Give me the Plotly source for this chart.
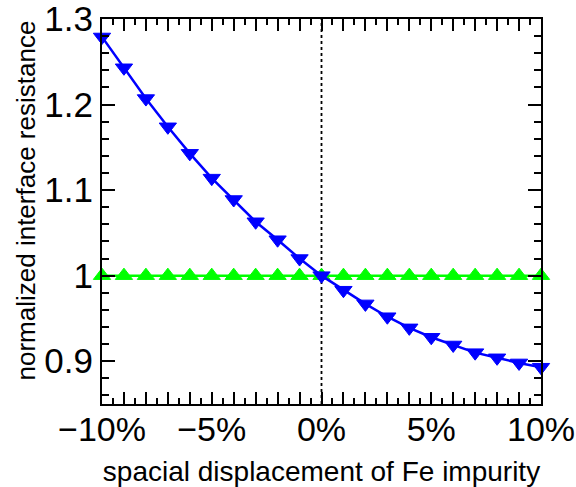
import plotly.graph_objects as go

displacement = list(range(-10, 11))
blue_resistance = [1.279, 1.243, 1.207, 1.174, 1.143, 1.114, 1.089, 1.063, 1.042, 1.020, 1.000,
                   0.983, 0.967, 0.952, 0.939, 0.928, 0.919, 0.910, 0.904, 0.898, 0.893]
green_resistance = [1.0] * 21

x_tickvals = list(range(-10, 11))
x_ticktext = ["−10%" if v == -10 else "−5%" if v == -5 else "0%" if v == 0 else
              "5%" if v == 5 else "10%" if v == 10 else "" for v in x_tickvals]
y_tickvals = [0.9, 1.0, 1.1, 1.2, 1.3]
y_ticktext = ["0.9", "1", "1.1", "1.2", "1.3"]

FONT = "Liberation Sans, Arial, sans-serif"

fig = go.Figure()
fig.add_trace(go.Scatter(
    x=displacement, y=green_resistance, mode="lines+markers",
    line=dict(color="#00ff00", width=2.5),
    marker=dict(symbol="triangle-up", size=15, color="#00ff00",
                line=dict(color="#00ff00", width=1)),
    showlegend=False, cliponaxis=False))
fig.add_trace(go.Scatter(
    x=displacement, y=blue_resistance, mode="lines+markers",
    line=dict(color="#0000ff", width=2.5),
    marker=dict(symbol="triangle-down", size=15, color="#0000ff",
                line=dict(color="#0000ff", width=1)),
    showlegend=False, cliponaxis=False))

fig.add_shape(type="line", xref="x", yref="paper", x0=0, x1=0, y0=0, y1=1,
              line=dict(color="black", width=1.8, dash="dot"), layer="below")

fig.add_annotation(text="normalized interface resistance", xref="paper", yref="paper",
                   x=0, y=0.5, xshift=-77, yshift=11, textangle=-90,
                   xanchor="center", yanchor="middle", showarrow=False,
                   font=dict(size=26, family=FONT, color="black"))

fig.update_layout(
    width=576, height=487,
    margin=dict(l=102, r=35, t=19, b=83),
    paper_bgcolor="white", plot_bgcolor="white",
    font=dict(family=FONT, color="black"),
    xaxis=dict(
        range=[-10, 10], tickvals=x_tickvals, ticktext=x_ticktext,
        ticks="inside", ticklen=12, tickwidth=1.5, tickcolor="black",
        showline=True, linecolor="black", linewidth=2, mirror="ticks",
        showgrid=False, zeroline=False, automargin=False, ticklabeloverflow="allow",
        ticklabelstandoff=-6,
        tickfont=dict(size=34, family=FONT),
        minor=dict(dtick=0.5, tick0=0, ticks="inside", ticklen=6, tickwidth=1.5, tickcolor="black"),
        title=dict(text="spacial displacement of Fe impurity", font=dict(size=28, family=FONT)),
    ),
    yaxis=dict(
        range=[0.85, 1.3], tickvals=y_tickvals, ticktext=y_ticktext,
        ticks="inside", ticklen=13, tickwidth=1.5, tickcolor="black",
        showline=True, linecolor="black", linewidth=2, mirror="ticks",
        showgrid=False, zeroline=False, automargin=False, ticklabeloverflow="allow",
        tickfont=dict(size=35, family=FONT),
        minor=dict(dtick=0.02, tick0=0.9, ticks="inside", ticklen=7, tickwidth=1.5, tickcolor="black"),
    ),
)

fig.write_html("out.html")
